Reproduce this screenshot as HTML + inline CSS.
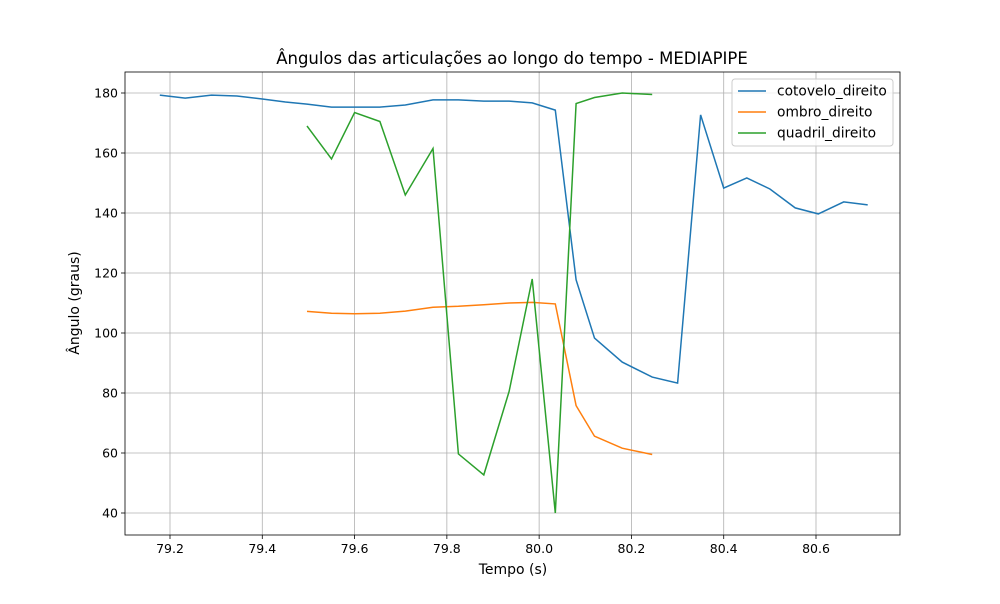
<!DOCTYPE html>
<html><head><meta charset="utf-8"><style>
body{margin:0;background:#fff;font-family:"DejaVu Sans","Liberation Sans",sans-serif}
</style></head><body>
<svg id="chart" width="1000" height="600" xmlns="http://www.w3.org/2000/svg" style="font-family:'DejaVu Sans','Liberation Sans',sans-serif"></svg>
<script>
const times=[79.178,79.233,79.29,79.345,79.4,79.45,79.497,79.55,79.6,79.655,79.71,79.77,79.825,79.88,79.935,79.985,80.035,80.08,80.12,80.18,80.245,80.3,80.35,80.4,80.45,80.5,80.555,80.605,80.66,80.712];
const cotovelo=[179.3,178.3,179.3,179,178,177,176.3,175.3,175.3,175.3,176,177.7,177.7,177.3,177.3,176.7,174.3,117.7,98.3,90.3,85.3,83.3,172.7,148.3,151.7,148,141.7,139.7,143.7,142.7];
const ombro=[null,null,null,null,null,null,107.2,106.6,106.4,106.6,107.3,108.6,108.9,109.4,110,110.2,109.7,75.8,65.6,61.6,59.5,null,null,null,null,null,null,null,null,null];
const quadril=[null,null,null,null,null,null,169,158,173.5,170.5,146,161.5,59.7,52.7,80.5,118,40,176.5,178.5,180,179.5,null,null,null,null,null,null,null,null,null];
const xTicks=[79.2,79.4,79.6,79.8,80.0,80.2,80.4,80.6];
const yTicks=[40,60,80,100,120,140,160,180];
const seriesNames=["cotovelo_direito","ombro_direito","quadril_direito"];
const colors=["#1f77b4","#ff7f0e","#2ca02c"];
const L=125,R=900,T=72,B=535;
const X=v=>170+(v-79.2)*(646/1.4);
const Y=v=>93+(180-v)*3;
const svg=document.getElementById('chart');const NS="http://www.w3.org/2000/svg";
function mk(t,a,p){const e=document.createElementNS(NS,t);for(const k in a)e.setAttribute(k,a[k]);(p||svg).appendChild(e);return e;}
const grid=mk('g',{});
xTicks.forEach(v=>{const x=X(v);
 mk('line',{x1:x,x2:x,y1:T,y2:B,stroke:'#b0b0b0','stroke-width':0.8},grid);
 mk('line',{x1:x,x2:x,y1:B,y2:B+4,stroke:'#000','stroke-width':0.8});
 const t=mk('text',{x:x,y:B+18,'text-anchor':'middle','font-size':12.5});t.textContent=v.toFixed(1);
 });
yTicks.forEach(v=>{const y=Y(v);
 mk('line',{x1:L,x2:R,y1:y,y2:y,stroke:'#b0b0b0','stroke-width':0.8},grid);
 mk('line',{x1:L-4,x2:L,y1:y,y2:y,stroke:'#000','stroke-width':0.8});
 const t=mk('text',{x:L-7,y:y+4.5,'text-anchor':'end','font-size':12.5});t.textContent=v;
 });
[cotovelo,ombro,quadril].forEach((s,i)=>{let d='',pen=false;
 s.forEach((v,j)=>{if(v==null){pen=false;return;}d+=(pen?'L':'M')+X(times[j]).toFixed(1)+','+Y(v).toFixed(1);pen=true;});
 const p=mk('path',{d:d,fill:'none',stroke:colors[i],'stroke-width':1.5});
 });
const fr=mk('rect',{x:L,y:T,width:R-L,height:B-T,fill:'none',stroke:'#000','stroke-width':0.8});

const ti=mk('text',{x:512,y:64,'text-anchor':'middle','font-size':16.5});ti.textContent='Ângulos das articulações ao longo do tempo - MEDIAPIPE';

const xl=mk('text',{x:513,y:574,'text-anchor':'middle','font-size':14});xl.textContent='Tempo (s)';

const yl=mk('text',{x:0,y:0,'text-anchor':'middle','font-size':14,transform:'translate(79,303) rotate(-90)'});yl.textContent='Ângulo (graus)';

const lg=mk('g',{});
mk('rect',{x:732,y:79,width:161,height:67,rx:3,fill:'#fff','fill-opacity':0.8,stroke:'#ccc'},lg);
seriesNames.forEach((n,i)=>{const y=91+i*21;
 mk('line',{x1:738,x2:766,y1:y,y2:y,stroke:colors[i],'stroke-width':1.5},lg);
 const t=mk('text',{x:777,y:y+4.5,'font-size':13.8},lg);t.textContent=n;
 });
</script>
</body></html>
